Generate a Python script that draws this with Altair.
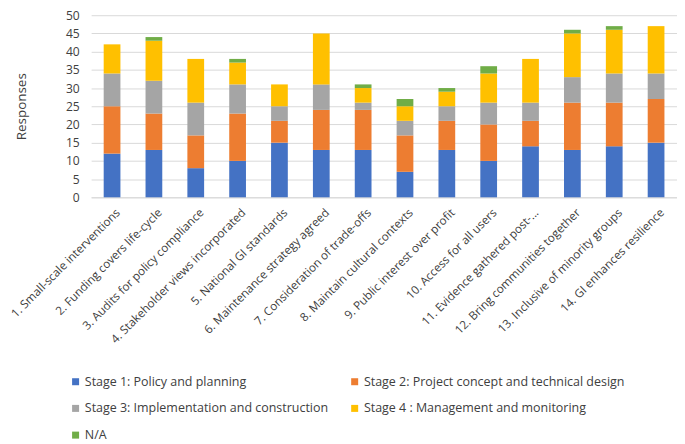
import altair as alt
import pandas as pd

categories = [
    "1. Small-scale interventions",
    "2. Funding covers life-cycle",
    "3. Audits for policy compliance",
    "4. Stakeholder views incorporated",
    "5. National GI standards",
    "6. Maintenance strategy agreed",
    "7. Consideration of trade-offs",
    "8. Maintain cultural contexts",
    "9. Public interest over profit",
    "10. Access for all users",
    "11. Evidence gathered post-...",
    "12. Bring communities together",
    "13. Inclusive of minority groups",
    "14. GI enhances resilience",
]
stages = [
    "Stage 1: Policy and planning",
    "Stage 2: Project concept and technical design",
    "Stage 3: Implementation and construction",
    "Stage 4 : Management and monitoring",
    "N/A",
]
stage1 = [12, 13, 8, 10, 15, 13, 13, 7, 13, 10, 14, 13, 14, 15]
stage2 = [13, 10, 9, 13, 6, 11, 11, 10, 8, 10, 7, 13, 12, 12]
stage3 = [9, 9, 9, 8, 4, 7, 2, 4, 4, 6, 5, 7, 8, 7]
stage4 = [8, 11, 12, 6, 6, 14, 4, 4, 4, 8, 12, 12, 12, 13]
na = [0, 1, 0, 1, 0, 0, 1, 2, 1, 2, 0, 1, 1, 0]
colors = ["#4472C4", "#ED7D31", "#A5A5A5", "#FFC000", "#70AD47"]

series = [stage1, stage2, stage3, stage4, na]
rows = []
for i, c in enumerate(categories):
    for k, (s, vals) in enumerate(zip(stages, series)):
        rows.append({"item": c, "stage": s, "value": vals[i], "k": k})
df = pd.DataFrame(rows)

FONT = "Open Sans"
TXT = "#404040"

chart = alt.Chart(df).mark_bar().encode(
    x=alt.X(
        "item:N",
        sort=categories,
        scale=alt.Scale(paddingInner=0.6, paddingOuter=0.3),
        axis=alt.Axis(
            title=None,
            labelAngle=-45,
            labelAlign="right",
            labelBaseline="middle",
            labelPadding=13,
            labelOffset=6,
            labelFont=FONT,
            labelFontSize=11.8,
            labelColor=TXT,
            labelLimit=0,
            labelOverlap=False,
            ticks=False,
            domainColor="#D9D9D9",
            grid=False,
        ),
    ),
    y=alt.Y(
        "value:Q",
        stack="zero",
        scale=alt.Scale(domain=[0, 50], nice=False),
        axis=alt.Axis(
            title="Responses",
            values=list(range(0, 51, 5)),
            titleFont=FONT,
            titleFontSize=13.6,
            titleFontWeight="normal",
            titleColor=TXT,
            titlePadding=37,
            labelFont=FONT,
            labelFontSize=12.2,
            labelColor=TXT,
            labelPadding=12,
            ticks=False,
            domain=False,
            gridColor="#D9D9D9",
        ),
    ),
    color=alt.Color(
        "stage:N",
        sort=stages,
        scale=alt.Scale(domain=stages, range=colors),
        legend=alt.Legend(
            title=None,
            orient="none",
            direction="horizontal",
            legendX=-22,
            legendY=364,
            columns=2,
            symbolType="square",
            symbolSize=50,
            symbolStrokeWidth=0,
            labelFont=FONT,
            labelFontSize=12.6,
            labelColor=TXT,
            labelOffset=3,
            labelLimit=0,
            columnPadding=20,
            rowPadding=14,
        ),
    ),
    order=alt.Order("k:Q", sort="ascending"),
).properties(
    width=592,
    height=184,
    padding={"left": 84, "top": 5, "right": 0, "bottom": 248},
    autosize=alt.AutoSizeParams(type="none"),
).configure_view(stroke=None)

chart.save("out.html", embed_options={"renderer": "svg", "actions": False})
